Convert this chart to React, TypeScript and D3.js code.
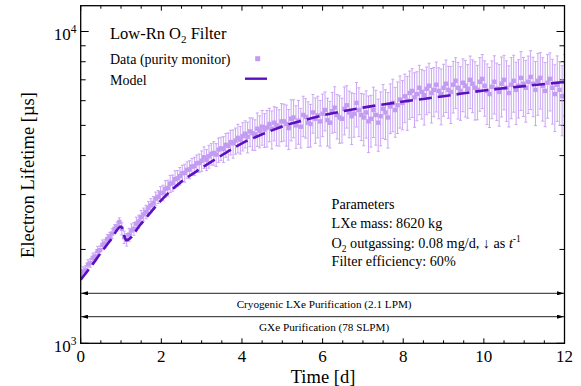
import React from "react";
import * as d3 from "d3";

// ---------- data ----------
const dataTime = [
  0,0.06,0.12,0.18,0.24,0.3,0.36,0.42,0.48,0.54,0.6,0.66,0.72,0.78,0.84,0.9,0.96,
  1.02,1.08,1.14,1.2,1.26,1.32,1.38,1.44,1.5,1.56,1.62,1.68,1.74,1.8,1.86,1.92,1.98,
  2.04,2.1,2.16,2.22,2.28,2.34,2.4,2.46,2.52,2.58,2.64,2.7,2.76,2.82,2.88,2.94,
  3,3.06,3.12,3.18,3.24,3.3,3.36,3.42,3.48,3.54,3.6,3.66,3.72,3.78,3.84,3.9,3.96,
  4.02,4.08,4.14,4.2,4.26,4.32,4.38,4.44,4.5,4.56,4.62,4.68,4.74,4.8,4.86,4.92,4.98,
  5.04,5.1,5.16,5.22,5.28,5.34,5.4,5.46,5.52,5.58,5.64,5.7,5.76,5.82,5.88,5.94,
  6,6.06,6.12,6.18,6.24,6.3,6.36,6.42,6.48,6.54,6.6,6.66,6.72,6.78,6.84,6.9,6.96,
  7.02,7.08,7.14,7.2,7.26,7.32,7.38,7.44,7.5,7.56,7.62,7.68,7.74,7.8,7.86,7.92,7.98,
  8.04,8.1,8.16,8.22,8.28,8.34,8.4,8.46,8.52,8.58,8.64,8.7,8.76,8.82,8.88,8.94,
  9,9.06,9.12,9.18,9.24,9.3,9.36,9.42,9.48,9.54,9.6,9.66,9.72,9.78,9.84,9.9,9.96,
  10.02,10.08,10.14,10.2,10.26,10.32,10.38,10.44,10.5,10.56,10.62,10.68,10.74,10.8,10.86,10.92,10.98,
  11.04,11.1,11.16,11.22,11.28,11.34,11.4,11.46,11.52,11.58,11.64,11.7,11.76,11.82,11.88,11.94,12,
];
const dataValue = [
  1660,1700,1720,1790,1810,1880,1900,1975,1990,2070,2090,2160,2200,2250,2330,2370,2450,
  2330,2190,2150,2230,2300,2330,2420,2460,2540,2590,2640,2720,2770,2820,2910,2950,3030,
  3040,3130,3150,3250,3270,3360,3380,3440,3510,3520,3600,3610,3690,3700,3780,3790,
  3850,3950,3880,3980,4050,4080,4030,4180,4220,4200,4330,4300,4420,4380,4470,4560,4500,
  4620,4700,4600,4780,4720,4680,4880,4800,4950,4850,4920,5050,4880,5100,5000,4950,5150,
  5150,5050,4900,5250,5300,5000,5180,4950,5400,5320,5100,5050,5500,5250,5380,5150,
  5450,5600,5200,5100,5550,5700,5400,5300,5250,5650,5800,5500,5350,5450,5900,5600,5400,
  5300,5500,5150,5250,5600,5400,5100,5350,5650,5500,5300,5750,5900,5600,5800,6050,5900,
  6200,6000,6350,6450,6150,6300,6600,6400,6250,6550,6700,6350,6500,6750,6450,6300,
  6600,6800,6500,6400,6750,6950,6600,6450,6850,6700,6550,7000,6800,6600,6500,6900,7050,
  6700,6450,6300,6650,6900,6550,6400,6800,7000,6600,6350,6750,6950,6500,6700,7100,6800,
  6600,6900,7150,6800,6500,6950,7100,6700,6450,6850,7050,6600,6300,6750,6500,6200,6900,
];
const dataError = [
  55,60,52,64,58,66,60,70,62,74,66,75,70,80,72,82,76,
  105,100,100,108,115,110,120,118,128,124,132,130,140,135,145,142,150,
  175,195,185,205,195,215,200,222,212,232,218,240,226,250,236,256,
  290,315,300,335,320,355,340,375,360,400,380,430,400,455,430,480,455,
  480,470,520,505,555,530,600,565,630,600,660,620,680,640,700,660,720,
  700,760,720,790,740,780,830,720,800,770,850,790,780,870,820,860,
  850,800,910,870,830,950,880,920,860,990,900,940,1010,870,960,1000,930,
  1000,950,1060,990,1030,1080,970,1050,1110,1000,1070,1040,1130,1020,1090,1150,1060,
  1100,1180,1120,1150,1220,1130,1190,1160,1240,1140,1210,1260,1170,1230,1200,1280,
  1250,1300,1230,1330,1270,1290,1360,1260,1320,1380,1280,1340,1310,1400,1290,1350,1390,
  1350,1420,1380,1400,1460,1370,1430,1480,1390,1450,1410,1500,1440,1470,1420,1520,1460,
  1480,1440,1530,1470,1510,1560,1460,1540,1500,1580,1490,1550,1520,1600,1500,1570,1540,
];

const modelTime = [0, 0.25, 0.5, 0.75, 1.0, 1.13, 1.5, 2, 2.5, 3, 3.5, 4, 4.5, 5, 5.5, 6, 7, 8, 9, 10, 11, 12];
const modelValue = [1600, 1760, 1950, 2150, 2370, 2140, 2420, 2880, 3300, 3650, 4010, 4380, 4680, 4960, 5180, 5380, 5700, 5960, 6200, 6470, 6680, 6890];

const xMajorTicks = [0, 2, 4, 6, 8, 10, 12];
const xMinorTicks = [0.5, 1, 1.5, 2.5, 3, 3.5, 4.5, 5, 5.5, 6.5, 7, 7.5, 8.5, 9, 9.5, 10.5, 11, 11.5];
const yMajorTicks = [1000, 10000];
const yMajorExp = ["3", "4"];
const yMinorTicks = [2000, 3000, 4000, 5000, 6000, 7000, 8000, 9000];
const xDomain = [0, 12];
const yDomain = [1000, 12100];

const paramLines = ["Parameters", "LXe mass: 8620 kg", "O2", "Filter efficiency: 60%"];

// ---------- layout ----------
const W = 581, H = 386;
const L = 80.7, R = 564.5, T = 5.7, B = 343.3;
const FONT = "'Liberation Serif', 'Times New Roman', serif";
const DATA_COLOR = "#c39cf2";
const BAR_COLOR = "#caa6f5";
const MODEL_COLOR = "#5a0fc0";

export default function App() {
  const x = d3.scaleLinear().domain(xDomain).range([L, R]);
  const y = d3.scaleLog().domain(yDomain).range([B, T]);

  const modelPts = modelTime.map((t, i) => [t, modelValue[i]] as [number, number]);
  const line = d3.line<[number, number]>().x(d => x(d[0])).y(d => y(d[1])).curve(d3.curveMonotoneX);

  const arrowYs = [293.3, 316.7];
  const arrowTexts = ["Cryogenic LXe Purification (2.1 LPM)", "GXe Purification (78 SLPM)"];

  return (
    <svg width={W} height={H} style={{ position: "absolute", left: 0, top: 0, background: "#fff" }} fontFamily={FONT}>
      <defs>
        <clipPath id="plotclip">
          <rect x={L} y={T} width={R - L} height={B - T} />
        </clipPath>
        <marker id="arr" viewBox="0 0 10 6" refX="10" refY="3" markerWidth="7" markerHeight="4.2" markerUnits="userSpaceOnUse" orient="auto-start-reverse">
          <path d="M0,0 L10,3 L0,6 Z" fill="#000" />
        </marker>
      </defs>
      <rect x={0} y={0} width={W} height={H} fill="#fff" />

      {/* ticks */}
      <g stroke="#000" strokeWidth={1}>
        {xMajorTicks.map(t => (
          <g key={"xM" + t}>
            <line x1={x(t)} x2={x(t)} y1={B} y2={B - 5} />
            <line x1={x(t)} x2={x(t)} y1={T} y2={T + 5} />
          </g>
        ))}
        {xMinorTicks.map(t => (
          <g key={"xm" + t}>
            <line x1={x(t)} x2={x(t)} y1={B} y2={B - 3} />
            <line x1={x(t)} x2={x(t)} y1={T} y2={T + 3} />
          </g>
        ))}
        {yMajorTicks.map(v => (
          <g key={"yM" + v}>
            <line x1={L} x2={L + 8} y1={y(v)} y2={y(v)} />
            <line x1={R} x2={R - 8} y1={y(v)} y2={y(v)} />
          </g>
        ))}
        {yMinorTicks.map(v => (
          <g key={"ym" + v}>
            <line x1={L} x2={L + 5} y1={y(v)} y2={y(v)} />
            <line x1={R} x2={R - 5} y1={y(v)} y2={y(v)} />
          </g>
        ))}
      </g>

      {/* data */}
      <g clipPath="url(#plotclip)">
        <g stroke={BAR_COLOR} strokeWidth={1}>
          {dataTime.map((t, i) => {
            const cx = x(t);
            const y1 = y(dataValue[i] + dataError[i]);
            const y2 = y(Math.max(dataValue[i] - dataError[i], 1001));
            return (
              <g key={"e" + i}>
                <line x1={cx} x2={cx} y1={y1} y2={y2} />
                <line x1={cx - 1.5} x2={cx + 1.5} y1={y1} y2={y1} />
                <line x1={cx - 1.5} x2={cx + 1.5} y1={y2} y2={y2} />
              </g>
            );
          })}
        </g>
        <g fill={DATA_COLOR}>
          {dataTime.map((t, i) => (
            <rect key={"p" + i} x={x(t) - 2.2} y={y(dataValue[i]) - 2.2} width={4.4} height={4.4} />
          ))}
        </g>
        <path d={line(modelPts) || ""} fill="none" stroke={MODEL_COLOR} strokeWidth={2.6} strokeDasharray="13,6" />
      </g>

      {/* arrows */}
      {arrowYs.map((ay, i) => (
        <g key={"a" + i}>
          <line x1={L + 0.5} x2={R - 0.5} y1={ay} y2={ay} stroke="#222" strokeWidth={1} markerStart="url(#arr)" markerEnd="url(#arr)" />
          <text x={x(6) + 1.5} y={ay + 14.5} fontSize={11.2} textAnchor="middle" fill="#000">{arrowTexts[i]}</text>
        </g>
      ))}

      {/* frame */}
      <rect x={L} y={T} width={R - L} height={B - T} fill="none" stroke="#000" strokeWidth={1.3} />

      {/* x tick labels */}
      {xMajorTicks.map(t => (
        <text key={"xl" + t} x={x(t)} y={361.5} fontSize={17} textAnchor="middle">{t}</text>
      ))}
      {/* y tick labels */}
      {yMajorTicks.map((v, i) => (
        <text key={"yl" + v} x={76.5} y={y(v) + 8.5} fontSize={17} textAnchor="end">
          10<tspan dy={-7} fontSize={11.5}>{yMajorExp[i]}</tspan>
        </text>
      ))}

      {/* axis titles */}
      <text x={323} y={382.5} fontSize={18.5} textAnchor="middle">Time [d]</text>
      <text transform="translate(34,175) rotate(-90)" fontSize={18.5} textAnchor="middle">Electron Lifetime [µs]</text>

      {/* legend */}
      <text x={110} y={39} fontSize={16.5}>
        Low-Rn O<tspan dy={4} fontSize={11}>2</tspan><tspan dy={-4}> Filter</tspan>
      </text>
      <text x={110} y={64} fontSize={14}>Data (purity monitor)</text>
      <rect x={255.2} y={56.2} width={5} height={5} fill={DATA_COLOR} />
      <text x={110} y={85} fontSize={14}>Model</text>
      <line x1={245} x2={267} y1={78.7} y2={78.7} stroke={MODEL_COLOR} strokeWidth={2.4} />

      {/* parameters */}
      <g fontSize={14.2}>
        <text x={331.5} y={209}>{paramLines[0]}</text>
        <text x={331.5} y={228.3}>{paramLines[1]}</text>
        <text x={331.5} y={247.6}>
          O<tspan dy={4} fontSize={9.5}>2</tspan><tspan dy={-4}> outgassing: 0.08 mg/d, ↓ as </tspan>
          <tspan fontStyle="italic">t</tspan><tspan dy={-6} fontSize={9.5}>-1</tspan>
        </text>
        <text x={331.5} y={266}>{paramLines[3]}</text>
      </g>
    </svg>
  );
}
